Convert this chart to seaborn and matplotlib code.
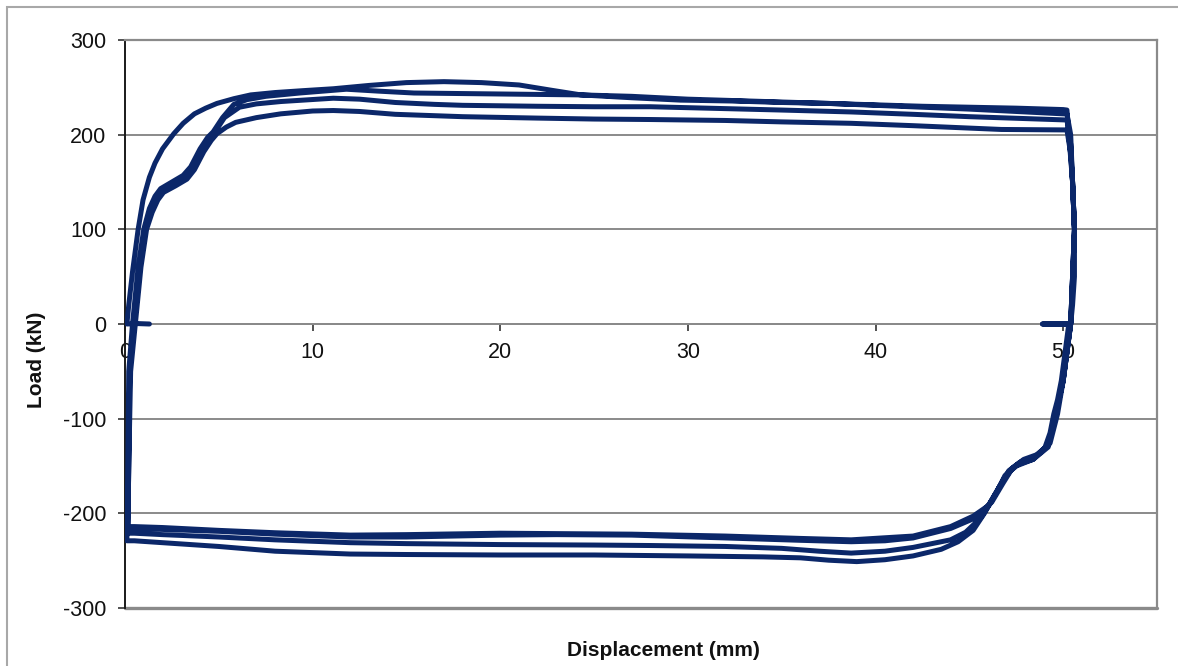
import numpy as np
import pandas as pd
import matplotlib
matplotlib.use("Agg")
import matplotlib.pyplot as plt
from matplotlib.patches import Rectangle
import seaborn as sns

# ---- cyclic load test: displacement (mm) and load (kN), four cycles ----
# cycle 1: first loading (smooth) and first unloading
c1_up_disp = [1.3, 0.6, 0.1, 0.2, 0.4, 0.7, 0.96, 1.3, 1.6, 2.0, 2.6, 3.1, 3.7, 4.3,
              4.9, 5.8, 6.7, 8.0, 9.5, 11.1, 13.0, 15.0, 17.0, 19.0, 21.0, 22.7,
              24.3, 27.0, 29.6, 32.5, 35.0, 37.5, 40.0, 42.5, 45.0, 47.5, 50.0, 50.2]
c1_up_load = [0, 0.5, 0, 20, 55, 100, 131, 155, 170, 185, 201, 212, 222, 228,
              233, 238, 242, 244.5, 246.5, 248.5, 252, 255, 256, 255, 252.5, 247,
              242, 239, 236.5, 235.5, 234, 233, 231.5, 230, 229, 228, 226.5, 226]
c1_dn_disp = [50.3, 50.5, 50.6, 50.6, 50.5, 50.4, 48.9, 50.3, 50.1, 49.9, 49.7, 49.5,
              49.3, 49.0, 48.4, 47.6, 47.2, 46.8, 46.3, 45.8, 45.2, 44.4, 43.5, 42.0,
              40.5, 39.0, 37.5, 36.0, 34.0, 30.0, 25.0, 20.0, 15.0, 12.0, 8.0, 5.0,
              2.0, 0.5, 0.2]
c1_dn_load = [200, 150, 100, 50, 20, 0, 0, 0, -30, -60, -80, -95,
              -115, -132, -143, -148, -155, -165, -182, -200, -218, -230, -238, -245,
              -249, -251, -249.5, -247, -246, -245, -244, -244, -243.5, -243, -240, -235,
              -231, -229, -229]

# cycle 2
c2_up_disp = [0.1, 0.15, 0.2, 0.4, 0.7, 1.0, 1.3, 1.6, 1.9, 2.5, 3.1, 3.5, 4.0, 4.4,
              4.7, 5.2, 5.8, 6.5, 7.5, 9.3, 11.8, 13.5, 15.4, 20.0, 24.3, 27.0, 30.0,
              32.5, 35.0, 37.5, 40.0, 42.5, 45.0, 47.5, 50.0, 50.2]
c2_up_load = [-229, -150, -50, 0, 60, 100, 122, 135, 143, 150, 157, 166, 185, 197,
              203, 218, 232, 237, 240.5, 244, 248, 246, 244, 243, 242, 240.5, 237.5,
              236, 234.5, 233, 231, 229, 227, 224.5, 222, 222]
c2_dn_disp = [50.4, 50.5, 50.6, 50.5, 50.4, 50.0, 49.6, 49.2, 48.5, 47.7, 47.1, 46.6,
              46.1, 45.6, 44.8, 44.0, 42.0, 40.5, 38.7, 37.0, 35.0, 32.0, 28.0, 25.0,
              20.0, 15.0, 12.0, 8.0, 5.0, 2.0, 0.5, 0.2]
c2_dn_load = [200, 150, 100, 50, 0, -60, -95, -128, -140, -146, -155, -172,
              -190, -205, -220, -228, -236, -240, -242, -240, -237, -235, -234, -233.5,
              -233, -232, -231, -228, -225, -222.5, -221, -221]

# cycle 3
c3_up_disp = [0.15, 0.2, 0.25, 0.5, 0.8, 1.1, 1.4, 1.7, 2.0, 2.6, 3.2, 3.6, 4.1, 4.5,
              4.8, 5.3, 6.1, 7.0, 8.3, 11.1, 12.5, 14.4, 16.5, 18.0, 22.0, 25.0, 28.0,
              32.0, 35.0, 38.7, 42.0, 45.0, 48.0, 50.2]
c3_up_load = [-221, -150, -50, 0, 60, 100, 120, 133, 141, 148, 155, 165, 184, 196,
              203, 218, 229, 232.5, 235, 238.5, 237.5, 234, 232, 231, 230, 229.5, 229.5,
              227.5, 226, 224, 221.5, 219, 217, 215.5]
c3_dn_disp = [50.4, 50.5, 50.6, 50.5, 50.4, 50.0, 49.7, 49.3, 48.6, 47.9, 47.3, 46.8,
              46.2, 45.3, 44.0, 42.0, 40.5, 38.7, 36.0, 32.0, 27.0, 23.0, 20.0, 15.0,
              12.0, 8.0, 5.0, 2.0, 0.5, 0.2]
c3_dn_load = [190, 150, 100, 50, 0, -60, -95, -126, -138, -143, -152, -168,
              -188, -205, -216, -226, -229, -230, -228.5, -226, -223, -222.5, -223, -225,
              -225, -222, -219, -217, -216, -216]

# cycle 4
c4_up_disp = [0.15, 0.2, 0.3, 0.55, 0.85, 1.15, 1.45, 1.75, 2.05, 2.7, 3.3, 3.7, 4.2,
              4.6, 4.9, 5.4, 5.9, 7.0, 8.3, 10.0, 11.1, 12.5, 14.4, 18.0, 22.0, 25.0,
              28.0, 32.0, 35.0, 38.7, 42.0, 46.7, 50.2]
c4_up_load = [-216, -150, -50, 0, 60, 100, 118, 131, 139, 146, 153, 163, 182,
              194, 201, 208, 213, 218, 222, 225, 225.5, 224.5, 221.5, 219, 217.5, 216.5,
              216, 215, 213.5, 212, 209.5, 205.5, 205]
c4_dn_disp = [50.4, 50.5, 50.6, 50.5, 50.4, 50.0, 49.6, 49.2, 48.4, 47.5, 46.9, 46.5,
              46.0, 45.2, 44.0, 42.0, 38.7, 36.0, 32.0, 27.0, 20.0, 15.0, 12.0, 8.0,
              5.0, 2.0, 0.5, 0.2]
c4_dn_load = [180, 150, 100, 50, 0, -60, -96, -130, -143, -150, -160, -176,
              -192, -203, -214, -224, -228, -226.5, -224, -222, -221, -222.5, -223, -220.5,
              -218, -215, -214, -214]

x_ticks = [0, 10, 20, 30, 40, 50]
y_ticks = [-300, -200, -100, 0, 100, 200, 300]

# one continuous record of the test, in acquisition order
disp = (c1_up_disp + c1_dn_disp + c2_up_disp + c2_dn_disp +
        c3_up_disp + c3_dn_disp + c4_up_disp + c4_dn_disp)
load = (c1_up_load + c1_dn_load + c2_up_load + c2_dn_load +
        c3_up_load + c3_dn_load + c4_up_load + c4_dn_load)
df = pd.DataFrame({"Displacement (mm)": disp, "Load (kN)": load})

sns.set_theme(style="white")
plt.rcParams["font.family"] = ["Liberation Sans", "DejaVu Sans"]
plt.rcParams["axes.unicode_minus"] = False

W, H = 1178, 666
fig = plt.figure(figsize=(W / 100, H / 100), dpi=100)
ax = fig.add_axes([125 / W, 1 - 608 / H, (1157 - 125) / W, (608 - 40) / H])

grid_c = "#8a8a8a"
ax.set_xlim(0, 55)
ax.set_ylim(-300, 300)
ax.set_yticks(y_ticks)
ax.set_xticks(x_ticks)
ax.yaxis.grid(True, color=grid_c, lw=1.4)
ax.xaxis.grid(False)
ax.set_axisbelow(True)

sns.lineplot(data=df, x="Displacement (mm)", y="Load (kN)", sort=False,
             estimator=None, color="#0b2769", lw=3.6, ax=ax, zorder=3)

# frame: x axis through zero load, grey box round the plot area
ax.spines["bottom"].set_position(("data", 0))
ax.spines["bottom"].set_color(grid_c)
ax.spines["bottom"].set_linewidth(1.4)
ax.spines["bottom"].set_zorder(1)
for s in ("top", "right"):
    ax.spines[s].set_visible(True)
    ax.spines[s].set_color(grid_c)
    ax.spines[s].set_linewidth(1.6)
ax.spines["left"].set_color("#1a1a1a")
ax.spines["left"].set_linewidth(1.4)
ax.axhline(-300, color=grid_c, lw=2.4, clip_on=False, zorder=1)

ax.tick_params(axis="y", direction="out", length=5, width=1.2, color="#333333",
               pad=8.5, labelsize=15.5, labelcolor="#111111", left=True)
ax.tick_params(axis="x", direction="out", length=5, width=1.2, color="#333333",
               pad=8, labelsize=15.5, labelcolor="#111111", bottom=True)

ax.set_xlabel("Displacement (mm)", fontsize=15, fontweight="bold", color="#111111")
ax.set_ylabel("Load (kN)", fontsize=15, fontweight="bold", color="#111111")
ax.xaxis.set_label_coords(0.522, -0.058)
ax.yaxis.set_label_coords(-0.077, 0.437)

# outer chart border
fig.add_artist(Rectangle((7 / W, -0.2), 1.2, 1 - 7 / H + 0.2, transform=fig.transFigure,
                         fill=False, edgecolor="#a8a8a8", lw=1.5, clip_on=False))

fig.savefig("out.png", dpi=100)
